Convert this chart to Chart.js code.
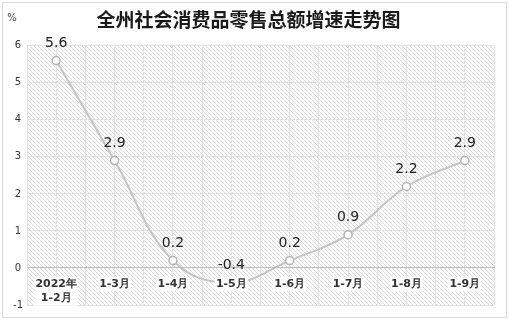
<!DOCTYPE html>
<html>
<head>
<meta charset="utf-8">
<script src="https://cdn.jsdelivr.net/npm/chart.js@4"></script>
<style>
  html, body { margin: 0; padding: 0; background: #fff; }
  #wrap { width: 509px; height: 320px; }
</style>
</head>
<body>
<div id="wrap"><canvas id="growthChart" width="509" height="320"></canvas></div>
<script>
// Data
const categories = [['2022年', '1-2月'], '1-3月', '1-4月', '1-5月', '1-6月', '1-7月', '1-8月', '1-9月'];
const growthRates = [5.6, 2.9, 0.2, -0.4, 0.2, 0.9, 2.2, 2.9];
const yTicks = { min: -1, max: 6, step: 1 };
const chartTitle = '全州社会消费品零售总额增速走势图';
const unitLabel = '%';

const tickFont = { family: '"DejaVu Sans"', size: 11, weight: 'bold', lineHeight: 1.3 };
const tickPadding = 9;

// Diagonal hatch used as the plot background
function makeHatch() {
    const c = document.createElement('canvas');
    c.width = 4;
    c.height = 4;
    const g = c.getContext('2d');
    g.fillStyle = '#ffffff';
    g.fillRect(0, 0, 4, 4);
    g.strokeStyle = '#d9d9d9';
    g.lineWidth = 1;
    g.beginPath();
    g.moveTo(-1, -1); g.lineTo(5, 5);
    g.moveTo(-1, 3); g.lineTo(1, 5);
    g.moveTo(3, -1); g.lineTo(5, 1);
    g.stroke();
    return c;
}

const backgroundPlugin = {
    id: 'background',
    beforeDraw(chart) {
        const { ctx, chartArea } = chart;
        ctx.save();
        ctx.fillStyle = '#ffffff';
        ctx.fillRect(0, 0, chart.width, chart.height);
        ctx.fillStyle = ctx.createPattern(makeHatch(), 'repeat');
        ctx.fillRect(chartArea.left, chartArea.top, chartArea.right - chartArea.left, chartArea.bottom - chartArea.top);
        ctx.restore();
    },
    // white boxes behind the category labels, covering the line
    afterDatasetsDraw(chart) {
        const ctx = chart.ctx;
        const xs = chart.scales.x;
        const top = chart.scales.y.getPixelForValue(0) + tickPadding;
        const lh = tickFont.size * tickFont.lineHeight;
        ctx.save();
        ctx.font = 'bold ' + tickFont.size + 'px ' + tickFont.family;
        ctx.fillStyle = '#ffffff';
        categories.forEach((lab, i) => {
            const lines = Array.isArray(lab) ? lab : [lab];
            const w = Math.max(...lines.map(l => ctx.measureText(l).width));
            const cx = xs.getPixelForTick(i);
            ctx.fillRect(cx - w / 2 - 1, top, w + 2, lines.length * lh);
        });
        ctx.restore();
    },
    afterDraw(chart) {
        const ctx = chart.ctx;
        ctx.save();
        // outer frame
        ctx.strokeStyle = '#d9d9d9';
        ctx.lineWidth = 1;
        ctx.strokeRect(2.5, 2.5, chart.width - 5, chart.height - 5);
        // unit label
        ctx.fillStyle = '#444';
        ctx.font = '10px "DejaVu Sans"';
        ctx.textAlign = 'center';
        ctx.textBaseline = 'middle';
        ctx.fillText(unitLabel, 12, 18);
        ctx.restore();
    }
};

// Value labels above each point
const valueLabelPlugin = {
    id: 'valueLabels',
    afterDraw(chart) {
        const ctx = chart.ctx;
        const meta = chart.getDatasetMeta(0);
        ctx.save();
        ctx.fillStyle = '#222';
        ctx.font = '14px "DejaVu Sans"';
        ctx.textAlign = 'center';
        ctx.textBaseline = 'middle';
        meta.data.forEach((pt, i) => {
            ctx.fillText(growthRates[i].toFixed(1), pt.x, pt.y - 17);
        });
        ctx.restore();
    }
};

new Chart(document.getElementById('growthChart'), {
    type: 'line',
    data: {
        labels: categories,
        datasets: [{
            data: growthRates,
            borderColor: '#c4c4c4',
            borderWidth: 2,
            tension: 0.4,
            fill: false,
            pointRadius: 4,
            pointBackgroundColor: '#ffffff',
            pointBorderColor: '#b4b4b4',
            pointBorderWidth: 1.5
        }]
    },
    options: {
        responsive: false,
        animation: false,
        devicePixelRatio: 1,
        layout: {
            padding: { top: 0, left: 3, right: 15, bottom: 15 }
        },
        plugins: {
            legend: { display: false },
            tooltip: { enabled: false },
            title: {
                display: true,
                text: chartTitle,
                color: '#1a1a1a',
                font: { family: '"Noto Sans CJK SC"', size: 19, weight: 'bold', lineHeight: 1.2 },
                padding: { top: 8, bottom: 15 }
            }
        },
        scales: {
            x: {
                type: 'category',
                position: { y: 0 },
                offset: true,
                grid: { display: false, drawTicks: false },
                border: { display: true, color: '#bdbdbd', width: 1, z: 1 },
                ticks: {
                    z: 1,
                    autoSkip: false,
                    maxRotation: 0,
                    padding: tickPadding,
                    color: '#333',
                    font: tickFont
                }
            },
            xGrid: {
                type: 'linear',
                axis: 'x',
                position: { y: 0 },
                min: -0.5,
                max: 7.5,
                ticks: { display: false, stepSize: 0.5 },
                grid: { color: '#e2e2e2', lineWidth: 1, drawTicks: false },
                border: { display: false }
            },
            y: {
                min: yTicks.min,
                max: yTicks.max,
                ticks: {
                    stepSize: yTicks.step,
                    color: '#333',
                    crossAlign: 'center',
                    padding: 4,
                    font: { family: '"DejaVu Sans"', size: 10 }
                },
                grid: { color: '#e2e2e2', lineWidth: 1, drawTicks: false },
                border: { display: false },
                afterFit(scale) {
                    scale.width = 24;
                }
            }
        }
    },
    plugins: [backgroundPlugin, valueLabelPlugin]
});
</script>
</body>
</html>
